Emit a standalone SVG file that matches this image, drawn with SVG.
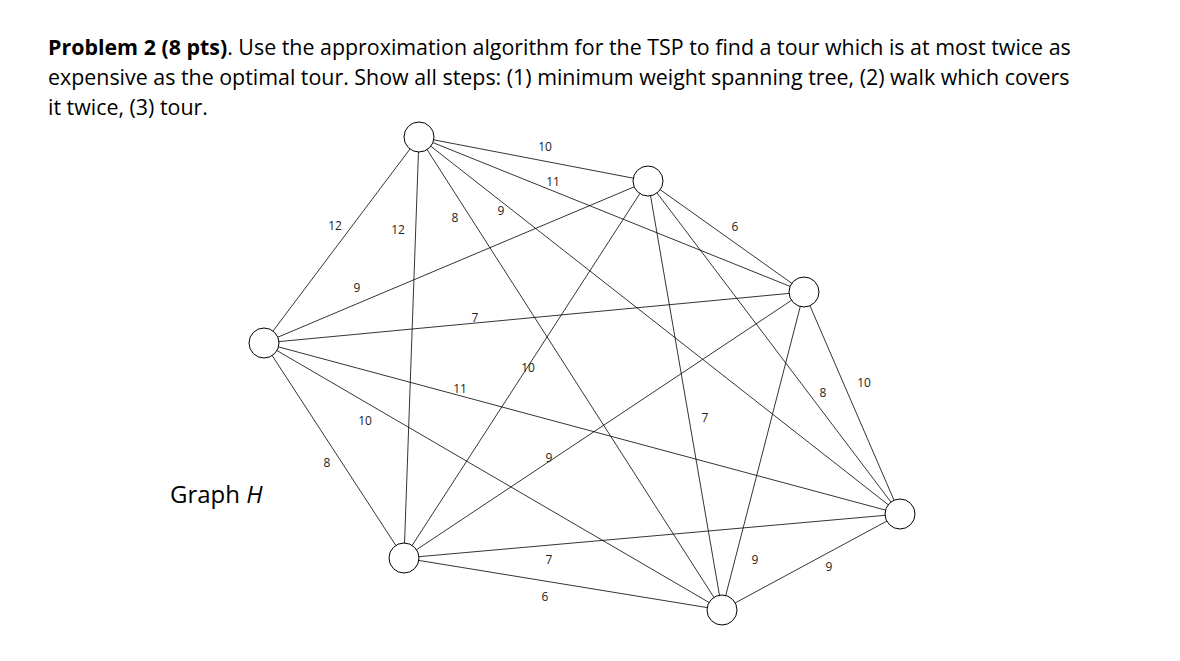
<svg xmlns="http://www.w3.org/2000/svg" width="1180" height="661" viewBox="0 0 1180 661">
<style>
.t{font-family:"Open Sans","Liberation Sans",sans-serif;font-size:21.4px;fill:#000}
.l{font-family:"Open Sans","Liberation Sans",sans-serif;font-size:12px;fill:#222;text-anchor:middle}
.e{stroke:#000;stroke-width:0.8;fill:none}
.n{fill:#fff;stroke:#000;stroke-width:1}
</style>
<rect width="1180" height="661" fill="#fff"/>
<text class="t" x="48" y="55"><tspan font-weight="bold">Problem 2 (8 pts)</tspan>. Use the approximation algorithm for the TSP to find a tour which is at most twice as</text>
<text class="t" x="48" y="85">expensive as the optimal tour. Show all steps: (1) minimum weight spanning tree, (2) walk which covers</text>
<text class="t" x="48" y="115">it twice, (3) tour.</text>
<text class="t" x="170" y="503" style="font-size:24px">Graph <tspan font-style="italic">H</tspan></text>
<g id="edges">
<line class="e" x1="419" y1="137" x2="648" y2="181"/>
<line class="e" x1="419" y1="137" x2="804" y2="292"/>
<line class="e" x1="419" y1="137" x2="900" y2="514"/>
<line class="e" x1="419" y1="137" x2="722" y2="610"/>
<line class="e" x1="419" y1="137" x2="404" y2="558"/>
<line class="e" x1="419" y1="137" x2="264" y2="343"/>
<line class="e" x1="648" y1="181" x2="264" y2="343"/>
<line class="e" x1="648" y1="181" x2="804" y2="292"/>
<line class="e" x1="648" y1="181" x2="722" y2="610"/>
<line class="e" x1="648" y1="181" x2="404" y2="558"/>
<line class="e" x1="648" y1="181" x2="900" y2="514"/>
<line class="e" x1="804" y1="292" x2="900" y2="514"/>
<line class="e" x1="804" y1="292" x2="264" y2="343"/>
<line class="e" x1="804" y1="292" x2="404" y2="558"/>
<line class="e" x1="804" y1="292" x2="722" y2="610"/>
<line class="e" x1="264" y1="343" x2="900" y2="514"/>
<line class="e" x1="264" y1="343" x2="722" y2="610"/>
<line class="e" x1="264" y1="343" x2="404" y2="558"/>
<line class="e" x1="404" y1="558" x2="900" y2="514"/>
<line class="e" x1="404" y1="558" x2="722" y2="610"/>
<line class="e" x1="900" y1="514" x2="722" y2="610"/>
</g>
<g id="labels">
<text class="l" x="545" y="151">10</text>
<text class="l" x="553" y="186">11</text>
<text class="l" x="501" y="215">9</text>
<text class="l" x="455" y="222">8</text>
<text class="l" x="398" y="234">12</text>
<text class="l" x="335" y="230">12</text>
<text class="l" x="357" y="292">9</text>
<text class="l" x="735" y="231">6</text>
<text class="l" x="705" y="422">7</text>
<text class="l" x="528" y="372">10</text>
<text class="l" x="823" y="397">8</text>
<text class="l" x="864" y="387">10</text>
<text class="l" x="475" y="322">7</text>
<text class="l" x="549" y="462">9</text>
<text class="l" x="755" y="564">9</text>
<text class="l" x="460" y="393">11</text>
<text class="l" x="365" y="425">10</text>
<text class="l" x="327" y="467">8</text>
<text class="l" x="549" y="564">7</text>
<text class="l" x="545" y="601">6</text>
<text class="l" x="829" y="571">9</text>
</g>
<g id="nA"><circle class="n" cx="419" cy="137" r="15"/></g>
<g id="nB"><circle class="n" cx="648" cy="181" r="15"/></g>
<g id="nC"><circle class="n" cx="804" cy="292" r="15"/></g>
<g id="nD"><circle class="n" cx="900" cy="514" r="15"/></g>
<g id="nE"><circle class="n" cx="722" cy="610" r="15"/></g>
<g id="nF"><circle class="n" cx="404" cy="558" r="15"/></g>
<g id="nG"><circle class="n" cx="264" cy="343" r="15"/></g>
</svg>
